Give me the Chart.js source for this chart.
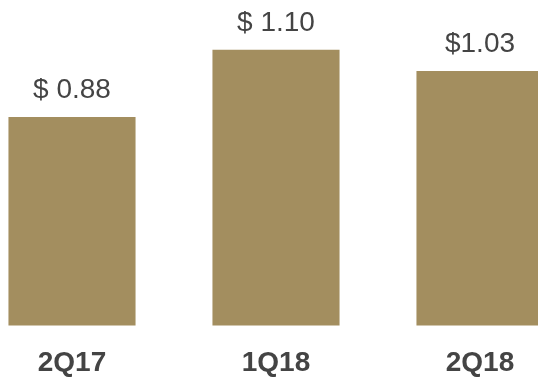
<!DOCTYPE html>
<html>
<head>
<meta charset="utf-8">
<script src="https://cdn.jsdelivr.net/npm/chart.js@4/dist/chart.umd.min.js"></script>
<style>
  html, body { margin: 0; padding: 0; background: #fff; overflow: hidden; }
  body { width: 538px; height: 379px; position: relative; }
  #eps { position: absolute; left: -30px; top: 0; }
</style>
</head>
<body>
<canvas id="eps" width="612" height="401"></canvas>
<script>
// Quarterly EPS
const quarters = ["2Q17", "1Q18", "2Q18"];
const eps = [0.88, 1.10, 1.03];
const epsLabels = ["$ 0.88", "$ 1.10", "$1.03"];

const BAR_COLOR = "#A38E5F";
const TEXT_COLOR = "#444444";
const FONT = "'Liberation Sans', Arial, sans-serif";

// writes the dollar amount above each bar
const valueLabels = {
  id: "valueLabels",
  afterDatasetsDraw(chart) {
    const ctx = chart.ctx;
    const meta = chart.getDatasetMeta(0);
    ctx.save();
    ctx.font = "28px " + FONT;
    ctx.fillStyle = TEXT_COLOR;
    ctx.textAlign = "center";
    ctx.textBaseline = "alphabetic";
    meta.data.forEach((bar, i) => {
      ctx.fillText(epsLabels[i], bar.x, bar.y - 19);
    });
    ctx.restore();
  },
};

new Chart(document.getElementById("eps"), {
  type: "bar",
  data: {
    labels: quarters,
    datasets: [
      {
        data: eps,
        backgroundColor: BAR_COLOR,
        borderWidth: 0,
        categoryPercentage: 1,
        barPercentage: 0.623,
      },
    ],
  },
  options: {
    responsive: false,
    animation: false,
    layout: { padding: 0 },
    plugins: {
      legend: { display: false },
      tooltip: { enabled: false },
      title: { display: false },
    },
    scales: {
      x: {
        grid: { display: false, drawTicks: false },
        border: { display: false },
        ticks: {
          padding: 21,
          color: TEXT_COLOR,
          font: { family: FONT, size: 28, weight: "bold", lineHeight: 1.2 },
        },
      },
      y: {
        display: false,
        min: 0.197,
        max: 1.263,
      },
    },
  },
  plugins: [valueLabels],
});
</script>
</body>
</html>
